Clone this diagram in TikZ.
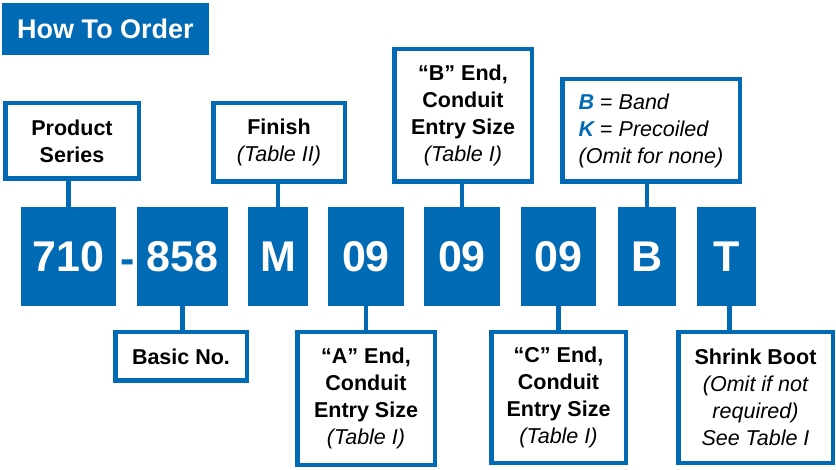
\documentclass[tikz,border=0pt]{standalone}
\usepackage{fontspec}
\setmainfont{Liberation Sans}
\definecolor{gblue}{RGB}{0,106,180}
\tikzset{
  code/.style={fill=gblue, text=white, font=\fontsize{43}{43}\selectfont\bfseries, inner sep=0pt},
  lbl/.style={draw=gblue, line width=4.5pt, fill=white, align=center, inner sep=0pt,
              font=\fontsize{21.5}{27}\selectfont\bfseries},
  conn/.style={draw=gblue, line width=4.5pt}
}
\newcommand{\itl}[1]{{\mdseries\itshape #1}}
\begin{document}
\begin{tikzpicture}[x=1pt,y=-1pt]
\useasboundingbox (0,0) rectangle (836,470);
% header
\node[fill=gblue, text=white, font=\fontsize{27}{27}\selectfont\bfseries,
      minimum width=207pt, minimum height=52pt, inner sep=0pt] (hdr) at (105.5,29) {How To Order};
% code boxes
\node[code, minimum width=95pt, minimum height=99pt] (c710) at (68.5,256.5) {710};
\node[code, minimum width=91pt, minimum height=99pt] (c858) at (182.5,256.5) {858};
\node[code, minimum width=60pt, minimum height=99pt] (cM) at (278,256.5) {M};
\node[code, minimum width=76pt, minimum height=99pt] (cA) at (366,256.5) {09};
\node[code, minimum width=76pt, minimum height=99pt] (cB) at (462,256.5) {09};
\node[code, minimum width=75pt, minimum height=99pt] (cC) at (558.5,256.5) {09};
\node[code, minimum width=58pt, minimum height=99pt] (cBand) at (647,256.5) {B};
\node[code, minimum width=59pt, minimum height=99pt] (cT) at (726.5,256.5) {T};
\node[text=gblue, font=\fontsize{43}{43}\selectfont\bfseries, inner sep=0pt, anchor=base] (dash) at (127.5,273.5) {-};
% top label boxes
\node[lbl, minimum width=133.5pt, minimum height=75.5pt] (ps) at (72,141) {Product\\Series};
\node[lbl, minimum width=131.5pt, minimum height=78.5pt] (fin) at (279,142.5) {Finish\\\itl{(Table II)}};
\node[lbl, minimum width=137.5pt, minimum height=132.5pt] (bend) at (463,115.5) {“B” End,\\Conduit\\Entry Size\\\itl{(Table I)}};
\node[lbl, align=left, minimum width=177.5pt, minimum height=102.5pt,
      font=\fontsize{21.5}{27}\selectfont] (band) at (651,130.5)
  {\textcolor{gblue}{\bfseries\itshape B} = \textit{Band}\\
   \textcolor{gblue}{\bfseries\itshape K} = \textit{Precoiled}\\
   \textit{(Omit for none)}};
% bottom label boxes
\node[lbl, minimum width=131.5pt, minimum height=48.5pt] (basic) at (181,356.5) {Basic No.};
\node[lbl, minimum width=137.5pt, minimum height=132.5pt] (aend) at (366,398.5) {“A” End,\\Conduit\\Entry Size\\\itl{(Table I)}};
\node[lbl, minimum width=134.5pt, minimum height=130.5pt] (cend) at (558.5,397.5) {“C” End,\\Conduit\\Entry Size\\\itl{(Table I)}};
\node[lbl, minimum width=154.5pt, minimum height=130.5pt] (shrink) at (755.5,397.5) {Shrink Boot\\\itl{(Omit if not}\\\itl{required)}\\\itl{See Table I}};
% connectors
\draw[conn] (ps.south -| c710.north) -- (c710.north);
\draw[conn] (fin.south -| cM.north) -- (cM.north);
\draw[conn] (bend.south -| cB.north) -- (cB.north);
\draw[conn] (band.south -| cBand.north) -- (cBand.north);
\draw[conn] (c858.south) -- (c858.south |- basic.north);
\draw[conn] (cA.south) -- (cA.south |- aend.north);
\draw[conn] (cC.south) -- (cC.south |- cend.north);
\draw[conn] ([xshift=3pt]cT.south) -- ([xshift=3pt]cT.south |- shrink.north);
\end{tikzpicture}
\end{document}
